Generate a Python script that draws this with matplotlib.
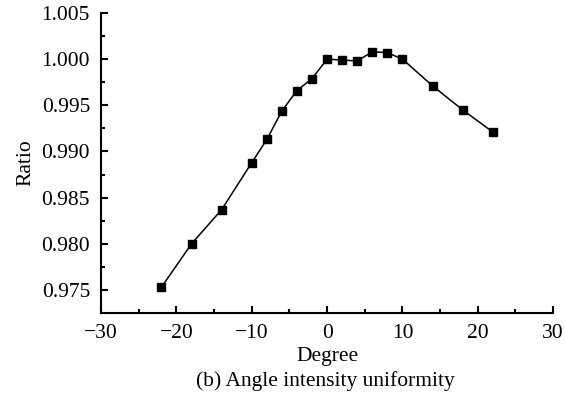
import numpy as np
import matplotlib.pyplot as plt
from matplotlib.ticker import MultipleLocator

# 全局字体
plt.rcParams['font.family'] = ['Liberation Serif', 'DejaVu Serif']

# 数据
degree = [-22, -18, -14, -10, -8, -6, -4, -2, 0, 2, 4, 6, 8, 10, 14, 18, 22]
ratio = [0.9753, 0.9800, 0.9837, 0.9888, 0.9913, 0.9944, 0.9966, 0.9979, 1.0000,
         0.9999, 0.9998, 1.0008, 1.0007, 1.0000, 0.9971, 0.9945, 0.9921]
x_ticks = [-30, -20, -10, 0, 10, 20, 30]
y_ticks = [0.975, 0.980, 0.985, 0.990, 0.995, 1.000, 1.005]

fig = plt.figure(figsize=(5.65, 4.05), dpi=100)
ax = fig.add_axes([0.179, 0.227, 0.800, 0.741])

ax.plot(degree, ratio, color='black', lw=1.1, marker='s', ms=6,
        markerfacecolor='black', markeredgecolor='black')

ax.set_xlim(-30, 30)
ax.set_ylim(0.9725, 1.005)
ax.set_xticks(x_ticks)
ax.set_xticklabels(['\u2212' + str(-t) if t < 0 else str(t) for t in x_ticks])
ax.set_yticks(y_ticks)
ax.set_yticklabels([f'{t:.3f}' for t in y_ticks])
ax.xaxis.set_minor_locator(MultipleLocator(5))
ax.yaxis.set_minor_locator(MultipleLocator(0.0025))

for s in ['top', 'right']:
    ax.spines[s].set_visible(False)
for s in ['left', 'bottom']:
    ax.spines[s].set_linewidth(1.5)

ax.tick_params(which='major', direction='in', length=5, width=1.5, labelsize=15.5, pad=8)
ax.tick_params(which='minor', direction='in', length=3, width=1.5)

ax.set_xlabel('Degree', fontsize=15.5, labelpad=3)
ax.set_ylabel('Ratio', fontsize=15.5, labelpad=4)

fig.text(325 / 565, 1 - 381 / 405, '(b) Angle intensity uniformity',
         ha='center', va='center', fontsize=15.5)

fig.savefig('out.png', dpi=100)
